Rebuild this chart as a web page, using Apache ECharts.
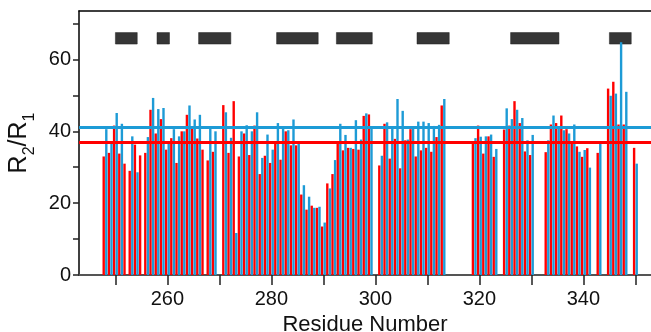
<!DOCTYPE html>
<html>
<head>
<meta charset="utf-8">
<script src="https://cdn.jsdelivr.net/npm/echarts@6/dist/echarts.min.js"></script>
<style>
html, body { margin: 0; padding: 0; background: #fff; }
#main { width: 651px; height: 332px; }
</style>
</head>
<body>
<div id="main"></div>
<script>
// residue numbers, R2/R1 of the two samples (null = not measured)
var residues = [
  248, 249, 250, 251, 252, 253, 254, 255, 256, 257,
  258, 259, 260, 261, 262, 263, 264, 265, 266, 267,
  268, 269, 270, 271, 272, 273, 274, 275, 276, 277,
  278, 279, 280, 281, 282, 283, 284, 285, 286, 287,
  288, 289, 290, 291, 292, 293, 294, 295, 296, 297,
  298, 299, 300, 301, 302, 303, 304, 305, 306, 307,
  308, 309, 310, 311, 312, 313, 314, 315, 316, 317,
  318, 319, 320, 321, 322, 323, 324, 325, 326, 327,
  328, 329, 330, 331, 332, 333, 334, 335, 336, 337,
  338, 339, 340, 341, 342, 343, 344, 345, 346, 347,
  348, 349, 350
];
var redVals = [
  33.0, 34.0, 41.6, 33.8, 31.0, 29.0, 36.3, 33.3, 34.0, 46.0,
  39.4, 43.4, 34.9, 38.1, 31.2, 40.0, 44.6, 40.7, 38.0, 34.9,
  31.9, 34.3, null, 47.3, 34.0, 48.4, 33.0, 39.4, 33.4, 41.6,
  28.1, 33.2, 31.2, 36.8, 32.1, 40.0, 36.1, 36.1, 22.4, 18.2,
  19.3, 18.7, 13.5, 25.5, 28.1, 36.7, 34.7, 35.4, 35.1, 34.9,
  44.3, 44.7, null, 30.5, 42.1, 32.4, 37.9, 29.7, 37.5, 40.6,
  33.0, 34.7, 35.4, 34.3, 38.4, 47.2, null, null, null, null,
  null, 37.2, 41.6, 33.8, 38.6, 32.9, null, 40.5, 41.6, 48.4,
  42.3, 34.4, 33.4, null, null, 34.2, 41.9, 42.3, 44.4, 40.6,
  37.2, 35.8, 32.9, 35.3, null, 34.0, null, 51.9, 53.8, 41.9,
  41.9, null, 35.4
];
var blueVals = [
  40.6, 36.5, 45.1, 42.1, null, 38.6, 28.6, null, 38.4, 49.3,
  46.2, 46.5, 36.7, 40.6, 38.6, 40.0, 47.2, 43.3, 44.6, null,
  40.7, 40.0, null, 45.3, 38.2, 11.7, 40.0, 41.7, 40.0, 45.3,
  32.6, 39.1, 34.9, 42.3, 40.7, 40.3, 43.3, 36.6, 25.0, 21.8,
  18.7, 19.0, 14.6, 24.1, 32.0, 42.1, 39.0, 35.4, 43.1, 37.7,
  45.0, 41.0, null, 33.2, 42.5, 40.7, 49.0, 45.7, 37.7, 41.4,
  42.7, 42.7, 42.3, 41.5, 41.8, 49.0, null, null, null, null,
  null, 38.1, 38.5, 38.6, 39.1, 35.1, null, 46.4, 43.4, 46.0,
  43.7, 37.5, 39.0, null, null, 37.5, 44.4, 41.1, 40.3, 39.4,
  41.9, 34.3, 34.8, 29.9, null, 36.6, null, 49.9, 50.5, 64.8,
  51.0, null, 31.0
];
var redAvg = 37.0;
var blueAvg = 41.0;

// secondary structure boxes along the top
var boxStart = [250, 258, 266, 281, 292.5, 308, 326, 345];
var boxEnd = [254.2, 260.4, 272.2, 289, 299.4, 314.2, 335.3, 349.2];
var boxBottom = 64.3;
var boxTop = 67.5;

var xTicks = [250, 260, 270, 280, 290, 300, 310, 320, 330, 340, 350];
var xLabels = [260, 280, 300, 320, 340];
var yTicks = [0, 10, 20, 30, 40, 50, 60, 70];
var yLabels = [0, 20, 40, 60];

var RED = '#ff0000';
var BLUE = '#1d9bd6';
var FONT = 'Liberation Sans';

function pairs(vals) {
  var out = [];
  for (var i = 0; i < residues.length; i++) {
    if (vals[i] != null) out.push([residues[i], vals[i]]);
  }
  return out;
}

var boxes = [];
for (var i = 0; i < boxStart.length; i++) {
  boxes.push([{ xAxis: boxStart[i], yAxis: boxBottom }, { xAxis: boxEnd[i], yAxis: boxTop }]);
}

var chart = echarts.init(document.getElementById('main'));
var option = {
  animation: false,
  grid: { left: 79, right: 0, top: 11, bottom: 57, containLabel: false, outerBoundsMode: 'none' },
  xAxis: [{
    type: 'value',
    min: 243,
    max: 353,
    name: 'Residue Number',
    nameLocation: 'middle',
    nameGap: 35,
    nameTextStyle: { fontFamily: FONT, fontSize: 22, color: '#111' },
    axisLine: { onZero: false, lineStyle: { color: '#555', width: 2 } },
    axisTick: { customValues: xTicks, length: 10, lineStyle: { color: '#222', width: 1.5 } },
    axisLabel: { customValues: xLabels, margin: 14, fontFamily: FONT, fontSize: 20, color: '#111' },
    splitLine: { show: false }
  }, {
    type: 'value',
    position: 'top',
    min: 243,
    max: 353,
    axisLine: { onZero: false, lineStyle: { color: '#000', width: 1.5 } },
    axisTick: { show: false },
    axisLabel: { show: false },
    splitLine: { show: false }
  }],
  yAxis: {
    type: 'value',
    min: 0,
    max: 73.5,
    name: '{a|R}{s|2}{a|/R}{s|1}',
    nameLocation: 'middle',
    nameGap: 46,
    nameTextStyle: {
      color: '#111',
      rich: {
        a: { fontFamily: FONT, fontSize: 25, color: '#111', verticalAlign: 'bottom', lineHeight: 28 },
        s: { fontFamily: FONT, fontSize: 16, color: '#111', verticalAlign: 'bottom', lineHeight: 28, padding: [0, 0, -6, 0] }
      }
    },
    axisLine: { show: true, lineStyle: { color: '#000', width: 1.5 } },
    axisTick: { customValues: yTicks, length: 6, lineStyle: { color: '#222', width: 1.5 } },
    axisLabel: { customValues: yLabels, margin: 8, fontFamily: FONT, fontSize: 20, color: '#111' },
    splitLine: { show: false }
  },
  series: [
    {
      name: 'red',
      type: 'bar',
      data: pairs(redVals),
      barWidth: 2.4,
      barGap: '8%',
      itemStyle: { color: RED },
      silent: true
    },
    {
      name: 'blue',
      type: 'bar',
      data: pairs(blueVals),
      barWidth: 2.4,
      barGap: '8%',
      itemStyle: { color: BLUE },
      silent: true
    },
    {
      type: 'line',
      data: [],
      z: 5,
      silent: true,
      markLine: {
        symbol: 'none',
        silent: true,
        label: { show: false },
        data: [
          { yAxis: blueAvg, lineStyle: { color: BLUE, width: 3, type: 'solid' } },
          { yAxis: redAvg, lineStyle: { color: RED, width: 3, type: 'solid' } }
        ]
      },
      markArea: {
        silent: true,
        itemStyle: { color: '#363636', borderColor: '#222', borderWidth: 0.5 },
        data: boxes
      }
    }
  ]
};
chart.setOption(option);
</script>
</body>
</html>
